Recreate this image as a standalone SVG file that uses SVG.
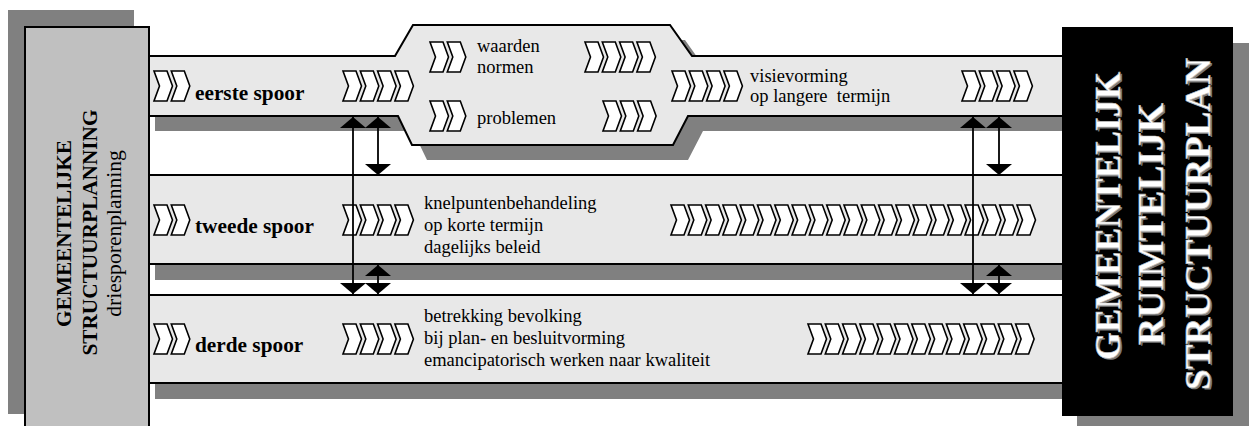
<svg xmlns="http://www.w3.org/2000/svg" xmlns:xlink="http://www.w3.org/1999/xlink" width="1249" height="426" viewBox="0 0 1249 426" font-family="'Liberation Serif', 'Times New Roman', serif">
  <style>
    .shadow { fill: #808080; }
    .track { fill: #e8e8e8; stroke: #000; stroke-width: 2; }
    .chev { fill: #fff; stroke: #000; stroke-width: 1.6; stroke-linejoin: miter; }
    .conn { stroke: #000; stroke-width: 1.8; fill: none; marker-start: url(#head); marker-end: url(#head); }
    .txt { font-size: 18.5px; fill: #000; }
    .lbl { font-size: 21.3px; font-weight: bold; fill: #000; }
    .side { fill: #000; text-anchor: middle; }
    .emb { font-size: 36px; font-weight: bold; text-anchor: middle; }
  </style>
  <defs>
    <!-- single chevron: 13 px body, 5 px notch/tip, 30 px tall -->
    <path id="chev" class="chev" d="M0,0 H13 L18.5,15 L13,30 H0 L5.5,15 Z"/>
    <marker id="head" viewBox="0 0 11 26" refX="11" refY="13" markerWidth="11" markerHeight="26" markerUnits="userSpaceOnUse" orient="auto-start-reverse">
      <path d="M0,0 L11,13 L0,26 Z" fill="#000"/>
    </marker>
  </defs>

  <!-- box shadows -->
  <rect class="shadow" x="8" y="10" width="126" height="404"/>
  <rect class="shadow" x="1077" y="43" width="175" height="392"/>

  <!-- track shadows -->
  <path class="shadow" d="M155,71 H410 L428,40 H685 L707,71 H1085 V131 H703 L688,160 H427 L413,131 H155 Z"/>
  <rect class="shadow" x="155" y="191" width="930" height="89"/>
  <rect class="shadow" x="155" y="311" width="930" height="88"/>

  <!-- track 1: eerste spoor with the widened middle part -->
  <g id="track1" font-family="'Liberation Serif', 'Times New Roman', serif">
    <path class="track" d="M140,56 H395 L413,25 H670 L692,56 H1070 V116 H688 L673,145 H412 L398,116 H140 Z"/>
    <use xlink:href="#chev" x="154" y="71"/>
    <use xlink:href="#chev" x="171.3" y="71"/>
    <text class="lbl" font-family="'Liberation Serif', serif" x="195" y="100">eerste spoor</text>
    <use xlink:href="#chev" x="343" y="71"/>
    <use xlink:href="#chev" x="360.3" y="71"/>
    <use xlink:href="#chev" x="377.6" y="71"/>
    <use xlink:href="#chev" x="394.9" y="71"/>
    <!-- middle part -->
    <use xlink:href="#chev" x="430" y="42"/>
    <use xlink:href="#chev" x="447.3" y="42"/>
    <text class="txt" font-family="'Liberation Serif', serif" x="477" y="52">waarden</text>
    <text class="txt" font-family="'Liberation Serif', serif" x="477" y="73">normen</text>
    <use xlink:href="#chev" x="585" y="42"/>
    <use xlink:href="#chev" x="602.3" y="42"/>
    <use xlink:href="#chev" x="619.6" y="42"/>
    <use xlink:href="#chev" x="636.9" y="42"/>
    <use xlink:href="#chev" x="430" y="101"/>
    <use xlink:href="#chev" x="447.3" y="101"/>
    <text class="txt" font-family="'Liberation Serif', serif" x="477" y="124">problemen</text>
    <use xlink:href="#chev" x="603" y="101"/>
    <use xlink:href="#chev" x="620.3" y="101"/>
    <use xlink:href="#chev" x="637.6" y="101"/>
    <!-- after the middle part -->
    <use xlink:href="#chev" x="672" y="71"/>
    <use xlink:href="#chev" x="689.3" y="71"/>
    <use xlink:href="#chev" x="706.6" y="71"/>
    <use xlink:href="#chev" x="723.9" y="71"/>
    <text class="txt" font-family="'Liberation Serif', serif" x="750" y="82">visievorming</text>
    <text class="txt" font-family="'Liberation Serif', serif" x="750" y="102" xml:space="preserve">op langere  termijn</text>
    <use xlink:href="#chev" x="962" y="71"/>
    <use xlink:href="#chev" x="979.3" y="71"/>
    <use xlink:href="#chev" x="996.6" y="71"/>
    <use xlink:href="#chev" x="1013.9" y="71"/>
  </g>

  <!-- track 2: tweede spoor -->
  <g id="track2" font-family="'Liberation Serif', 'Times New Roman', serif">
    <rect class="track" x="140" y="175" width="930" height="89"/>
    <use xlink:href="#chev" x="154" y="205"/>
    <use xlink:href="#chev" x="171.3" y="205"/>
    <text class="lbl" font-family="'Liberation Serif', serif" x="195" y="233">tweede spoor</text>
    <use xlink:href="#chev" x="343" y="205"/>
    <use xlink:href="#chev" x="360.3" y="205"/>
    <use xlink:href="#chev" x="377.6" y="205"/>
    <use xlink:href="#chev" x="394.9" y="205"/>
    <text class="txt" font-family="'Liberation Serif', serif" x="424" y="209">knelpuntenbehandeling</text>
    <text class="txt" font-family="'Liberation Serif', serif" x="424" y="231">op korte termijn</text>
    <text class="txt" font-family="'Liberation Serif', serif" x="424" y="253">dagelijks beleid</text>
    <g transform="translate(671,205)">
      <use xlink:href="#chev" x="0"/><use xlink:href="#chev" x="17.3"/><use xlink:href="#chev" x="34.6"/>
      <use xlink:href="#chev" x="51.9"/><use xlink:href="#chev" x="69.2"/><use xlink:href="#chev" x="86.5"/>
      <use xlink:href="#chev" x="103.8"/><use xlink:href="#chev" x="121.1"/><use xlink:href="#chev" x="138.4"/>
      <use xlink:href="#chev" x="155.7"/><use xlink:href="#chev" x="173"/><use xlink:href="#chev" x="190.3"/>
      <use xlink:href="#chev" x="207.6"/><use xlink:href="#chev" x="224.9"/><use xlink:href="#chev" x="242.2"/>
      <use xlink:href="#chev" x="259.5"/><use xlink:href="#chev" x="276.8"/><use xlink:href="#chev" x="294.1"/>
      <use xlink:href="#chev" x="311.4"/><use xlink:href="#chev" x="328.7"/><use xlink:href="#chev" x="346"/>
    </g>
  </g>

  <!-- track 3: derde spoor -->
  <g id="track3" font-family="'Liberation Serif', 'Times New Roman', serif">
    <rect class="track" x="140" y="295" width="930" height="88"/>
    <use xlink:href="#chev" x="154" y="324"/>
    <use xlink:href="#chev" x="171.3" y="324"/>
    <text class="lbl" font-family="'Liberation Serif', serif" x="195" y="352">derde spoor</text>
    <use xlink:href="#chev" x="343" y="324"/>
    <use xlink:href="#chev" x="360.3" y="324"/>
    <use xlink:href="#chev" x="377.6" y="324"/>
    <use xlink:href="#chev" x="394.9" y="324"/>
    <text class="txt" font-family="'Liberation Serif', serif" x="424" y="322">betrekking bevolking</text>
    <text class="txt" font-family="'Liberation Serif', serif" x="424" y="344">bij plan- en besluitvorming</text>
    <text class="txt" font-family="'Liberation Serif', serif" x="424" y="366">emancipatorisch werken naar kwaliteit</text>
    <g transform="translate(808,324)">
      <use xlink:href="#chev" x="0"/><use xlink:href="#chev" x="17.3"/><use xlink:href="#chev" x="34.6"/>
      <use xlink:href="#chev" x="51.9"/><use xlink:href="#chev" x="69.2"/><use xlink:href="#chev" x="86.5"/>
      <use xlink:href="#chev" x="103.8"/><use xlink:href="#chev" x="121.1"/><use xlink:href="#chev" x="138.4"/>
      <use xlink:href="#chev" x="155.7"/><use xlink:href="#chev" x="173"/><use xlink:href="#chev" x="190.3"/>
      <use xlink:href="#chev" x="207.6"/>
    </g>
  </g>

  <!-- connectors between the tracks -->
  <g id="connectors">
    <line class="conn" x1="353" y1="117" x2="353" y2="294"/>
    <line class="conn" x1="378" y1="117" x2="378" y2="175"/>
    <line class="conn" x1="378" y1="265" x2="378" y2="294"/>
    <line class="conn" x1="973" y1="117" x2="973" y2="294"/>
    <line class="conn" x1="999" y1="117" x2="999" y2="175"/>
    <line class="conn" x1="999" y1="265" x2="999" y2="294"/>
  </g>

  <!-- left box -->
  <g id="planning">
    <rect x="25" y="27" width="124" height="410" fill="#c0c0c0" stroke="#000" stroke-width="2"/>
    <text class="side" font-family="'Liberation Serif', serif" transform="translate(71,233.5) rotate(-90)" font-size="21.3" font-weight="bold">GEMEENTELIJKE</text>
    <text class="side" font-family="'Liberation Serif', serif" transform="translate(97,232.5) rotate(-90)" font-size="21.3" font-weight="bold">STRUCTUURPLANNING</text>
    <text class="side" font-family="'Liberation Serif', serif" transform="translate(121,233.5) rotate(-90)" font-size="21.6">driesporenplanning</text>
  </g>

  <!-- right box -->
  <g id="structuurplan" font-family="'Liberation Serif', serif">
    <rect x="1062" y="27" width="171" height="389" fill="#000"/>
    <g fill="#7a7a7a">
      <text class="emb" transform="translate(1121.5,217.5) rotate(-90)" textLength="288" lengthAdjust="spacingAndGlyphs">GEMEENTELIJK</text>
      <text class="emb" transform="translate(1164.5,225.5) rotate(-90)" textLength="242" lengthAdjust="spacingAndGlyphs">RUIMTELIJK</text>
      <text class="emb" transform="translate(1211.5,225.5) rotate(-90)" textLength="332" lengthAdjust="spacingAndGlyphs">STRUCTUURPLAN</text>
    </g>
    <g fill="#fff" stroke="#bdbdbd" stroke-width="0.6">
      <text class="emb" transform="translate(1120,216) rotate(-90)" textLength="288" lengthAdjust="spacingAndGlyphs">GEMEENTELIJK</text>
      <text class="emb" transform="translate(1163,224) rotate(-90)" textLength="242" lengthAdjust="spacingAndGlyphs">RUIMTELIJK</text>
      <text class="emb" transform="translate(1210,224) rotate(-90)" textLength="332" lengthAdjust="spacingAndGlyphs">STRUCTUURPLAN</text>
    </g>
  </g>
</svg>
